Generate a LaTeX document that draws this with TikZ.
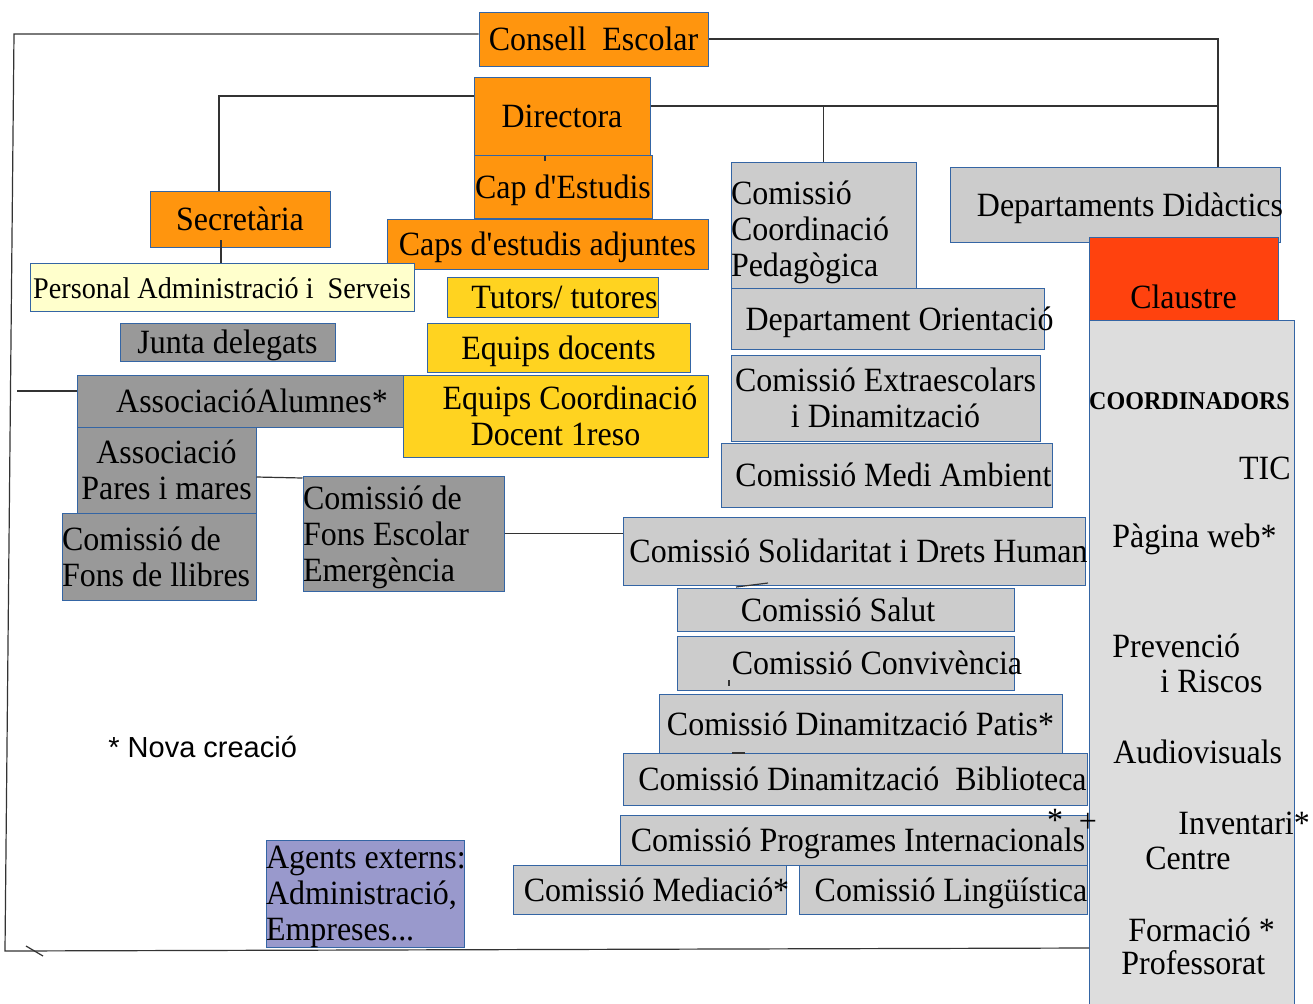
\documentclass[tikz,border=0pt]{standalone}
\usepackage{fontspec}
\setmainfont{Liberation Serif}[FakeStretch=0.94]
\newfontfamily\notefont{Liberation Sans}
\usetikzlibrary{positioning,calc}

\definecolor{boxline}{HTML}{3465A4}
\definecolor{orgfill}{HTML}{FF950E}
\definecolor{yelfill}{HTML}{FFD320}
\definecolor{palefill}{HTML}{FFFFCC}
\definecolor{darkfill}{HTML}{999999}
\definecolor{lightfill}{HTML}{CCCCCC}
\definecolor{coordfill}{HTML}{DDDDDD}
\definecolor{claufill}{HTML}{FF420E}
\definecolor{extfill}{HTML}{9999CC}

\tikzset{
  box/.style={draw=boxline, line width=0.5pt, inner sep=0pt, text height=15pt, text depth=3.5pt, font=\fontsize{17}{18}\selectfont},
  twolines/.style={text depth=21.5pt},
  threelines/.style={text depth=39.5pt},
  orangebox/.style={box, fill=orgfill},
  yellowbox/.style={box, fill=yelfill},
  palebox/.style={box, fill=palefill},
  darkbox/.style={box, fill=darkfill},
  lightbox/.style={box, fill=lightfill},
  coordtext/.style={inner sep=0pt, font=\fontsize{17}{18}\selectfont},
  link/.style={draw=black!80, line width=0.6pt},
}
% text moved sideways inside its box
\newcommand{\moved}[2]{\makebox[0pt]{\hspace*{#1}#2}}
% font spaces again in aligned nodes
\newcommand{\nsp}{\spaceskip=0pt\relax\xspaceskip=0pt\relax}

\begin{document}
\begin{tikzpicture}[x=0.5pt, y=-0.5pt]
\useasboundingbox (0,0) rectangle (1313,1003);

% equip directiu
\node[orangebox, minimum width=114.5pt, minimum height=27pt] (consell) at (593.5,39) {Consell\ \ Escolar};
\node[orangebox, minimum width=88pt, minimum height=39pt] (dir) at (562,116) {Directora};
\node[orangebox, minimum width=89pt, minimum height=31.5pt] (cap) at (563,186.5) {Cap d\textquotesingle Estudis};
\node[orangebox, minimum width=160.5pt, minimum height=25pt] (capsadj) at (547.5,244) {Caps d\textquotesingle estudis adjuntes};
\node[orangebox, minimum width=90pt, minimum height=28pt] (secr) at (240,219) {Secretària};
\node[palebox, minimum width=192pt, minimum height=24pt, font=\fontsize{15}{16}\selectfont] (pas) at (222,287) {Personal Administració i\ \ Serveis};

% equips docents
\node[yellowbox, minimum width=105.5pt, minimum height=20pt] (tutors) at (552.5,297) {\moved{12pt}{Tutors/ tutores}};
\node[yellowbox, minimum width=131.5pt, minimum height=24.5pt] (eqdoc) at (558.5,347.5) {Equips docents};

% alumnes i families
\node[darkbox, minimum width=107.5pt, minimum height=19pt] (junta) at (227.5,342) {Junta delegats};
\node[darkbox, minimum width=163pt, minimum height=26pt] (alumnes) at (240,401) {\moved{12pt}{AssociacióAlumnes*}};
\node[yellowbox, twolines, minimum width=152.5pt, minimum height=41pt, align=center, text width=152.5pt] (eqcoord) at (555.5,416) {\nsp\mbox{\hspace*{14.5pt}Equips Coordinació}\\\mbox{Docent 1reso}};
\node[darkbox, twolines, minimum width=89.5pt, minimum height=43pt, align=center, text width=89.5pt] (pares) at (166.5,470) {\nsp\mbox{Associació}\\\mbox{Pares i mares}};
\node[darkbox, twolines, minimum width=97pt, minimum height=43.5pt, align=left, text width=97pt] (llibres) at (159,556.5) {\nsp\mbox{Comissió de}\\\mbox{Fons de llibres}};
\node[darkbox, threelines, minimum width=100.5pt, minimum height=57.5pt, align=left, text width=100.5pt] (fons) at (403.5,533.5) {\nsp\mbox{Comissió de}\\\mbox{Fons Escolar}\\\mbox{Emergència}};

% comissions i departaments
\node[lightbox, threelines, text height=18.5pt, minimum width=92.5pt, minimum height=63pt, align=left, text width=92.5pt] (ccp) at (823.5,225) {\nsp\mbox{Comissió}\\\mbox{Coordinació}\\\mbox{Pedagògica}};
\node[lightbox, minimum width=165pt, minimum height=37.5pt] (didac) at (1115,204.5) {\moved{15pt}{Departaments Didàctics}};
\node[box, fill=claufill, text height=33pt, minimum width=94.5pt, minimum height=41.5pt] (claustre) at (1183.5,278.5) {Claustre};
\node[lightbox, minimum width=156.5pt, minimum height=30.5pt] (orient) at (887.5,318.5) {\moved{12pt}{Departament Orientació}};
\node[lightbox, twolines, minimum width=154.5pt, minimum height=43pt, align=center, text width=154.5pt] (extra) at (885.5,398) {\nsp\mbox{Comissió Extraescolars}\\\mbox{i Dinamització}};
\node[lightbox, minimum width=165.5pt, minimum height=32pt] (medi) at (886.5,475) {\moved{7pt}{Comissió Medi Ambient}};
\node[lightbox, minimum width=231pt, minimum height=34pt] (solid) at (854,551) {\moved{4.5pt}{Comissió Solidaritat i Drets Human}};
\node[lightbox, minimum width=168.5pt, minimum height=21.5pt] (salut) at (845.5,609.5) {\moved{-7.5pt}{Comissió Salut}};
\node[lightbox, minimum width=168.5pt, minimum height=27pt] (conviv) at (845.5,663) {\moved{31.5pt}{Comissió Convivència}};
\node[lightbox, minimum width=201.5pt, minimum height=29.5pt] (patis) at (860.5,723.5) {Comissió Dinamització Patis*};
\node[lightbox, minimum width=232pt, minimum height=26pt] (biblio) at (855,779) {\moved{7.5pt}{Comissió Dinamització\ \ Biblioteca}};
\node[lightbox, minimum width=233.5pt, minimum height=25pt] (prog) at (853.5,840) {\moved{4.5pt}{Comissió Programes Internacionals}};
\node[lightbox, minimum width=136.5pt, minimum height=24.5pt] (mediacio) at (649.5,889.5) {\moved{7pt}{Comissió Mediació*}};
\node[lightbox, minimum width=144pt, minimum height=24.5pt] (lingu) at (943,889.5) {\moved{8pt}{Comissió Lingüística}};
\node[box, threelines, text height=14pt, fill=extfill, minimum width=99pt, minimum height=53.5pt, align=left, text width=99pt] (agents) at (365,893.5) {\nsp\mbox{Agents externs:}\\\mbox{Administració,}\\\mbox{Empreses...}};

% coordinadors
\node[box, fill=coordfill, minimum width=102.5pt, minimum height=345pt] (coord) at (1191.5,665) {};
\node[coordtext, font=\fontsize{12.8}{14}\selectfont\bfseries] (coordtitle) at (1189.5,401) {COORDINADORS};
\node[coordtext, anchor=east] (tic) at (1291,468) {TIC};
\node[coordtext, anchor=west] (web) at (1112,539) {Pàgina web*};
\node[coordtext, anchor=west] (prev) at (1112,646) {Prevenció};
\node[coordtext, anchor=west] (riscos) at (1160,681) {i Riscos};
\node[coordtext, anchor=west] (audio) at (1113,752) {Audiovisuals};
\node[coordtext, anchor=west] (invent) at (1178,823) {Inventari*};
\node[coordtext, anchor=west] (centre) at (1145,858) {Centre};
\node[coordtext, anchor=west] (forma) at (1128,930) {Formació *};
\node[coordtext, anchor=west] (profes) at (1121,963) {Professorat};
\node[coordtext] (star) at (1055,820) {*};
\node[coordtext] (plus) at (1088,823) {+};

\node[inner sep=0pt, anchor=west, font=\notefont\fontsize{14.5}{17}\selectfont] (nova) at (108,747) {* Nova creació};

% connexions
\coordinate (tl) at (14,34);
\coordinate (bl) at (5,951);
\coordinate (br) at (1089,948);
\coordinate (alfoot) at (17,391);
\coordinate (cr) at (1218,39);
\coordinate (dl) at (219,96);
\coordinate (dr) at (1218,106);
\coordinate (sp) at (221,240);

\draw[link] (consell.west |- tl) -- (tl) -- (bl) -- (br);
\draw[link] (alfoot) -- (alumnes.west |- alfoot);
\draw[link] (consell.east) -- (cr) -- (cr |- didac.north);
\draw[link] (dir.west |- dl) -- (dl) -- (dl |- secr.north);
\draw[link] (dir.east |- dr) -- (dr);
\draw[link] (ccp.north |- dr) -- (ccp.north);
\draw[link] (sp) -- (sp |- pas.north);
\draw[link] (pares.east |- 0,477) -- (fons.west |- 0,478);
\draw[link] (fons.east) -- (solid.west |- fons.east);

% petites marques
\draw[link] (dir.south -| 545,0) -- ++(0,5);
\draw[link] (736,587) -- (768,583);
\draw[link] (729,680) -- (729,686);
\draw[link] (732,753) -- (745,753);
\draw[link] (26,946) -- (43,956);
\end{tikzpicture}
\end{document}
